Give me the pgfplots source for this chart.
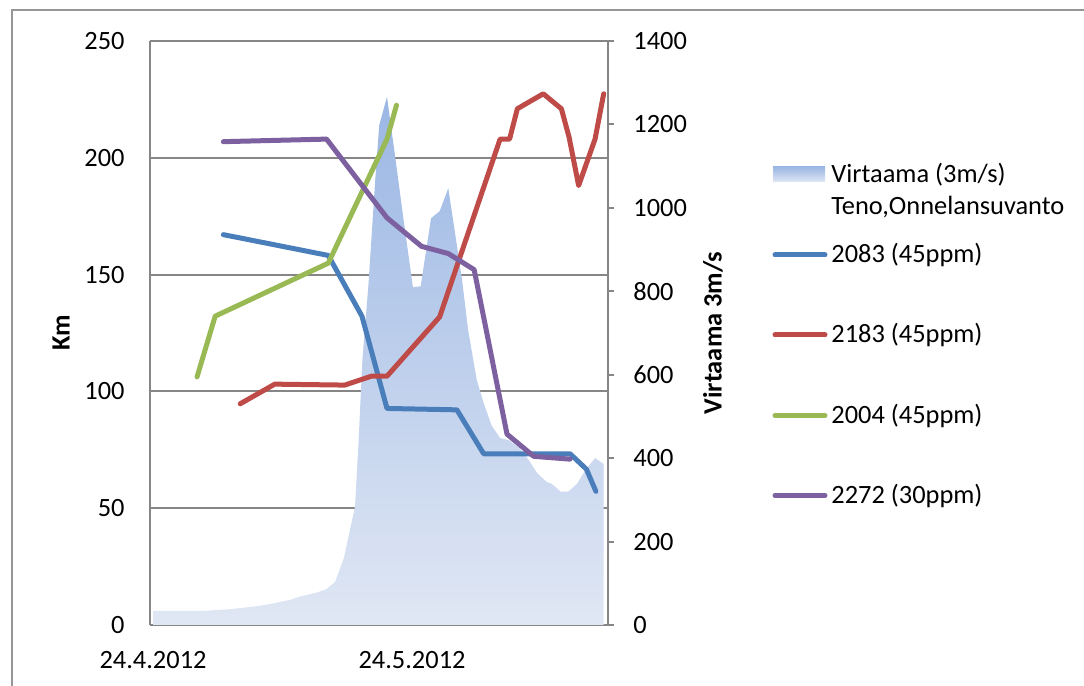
\documentclass[border=0pt]{standalone}
\usepackage{fontspec}
\setmainfont{Carlito}
\usepackage{pgfplots}
\pgfplotsset{compat=1.18}
\definecolor{gridgray}{RGB}{134,134,134}
\definecolor{c1}{RGB}{74,126,187}
\definecolor{c2}{RGB}{190,75,72}
\definecolor{c3}{RGB}{152,185,84}
\definecolor{c4}{RGB}{125,96,160}
\definecolor{areatop}{RGB}{155,183,228}
\definecolor{areabot}{RGB}{224,231,244}
\definecolor{framegray}{RGB}{150,150,150}
\newcommand\fsz{\fontsize{13.2}{16}\selectfont}

\begin{document}
\begin{tikzpicture}[font=\fsz]
\useasboundingbox (-75pt,-30.5pt) rectangle (467pt,312.5pt);
\pgfplotsset{base/.style={at={(0,0)}, anchor=south west, scale only axis,
  width=229pt, height=292pt, xmin=-0.35, xmax=52.7,
  /pgf/number format/assume math mode=true,
  /pgf/number format/1000 sep={},
  tick label style={font=\fsz}}}
% outer chart frame
\draw[framegray, line width=0.6pt] (-69pt,-40pt) -- (-69pt,307.5pt) -- (480pt,307.5pt);

% Axis A: left axis, grid
\begin{axis}[base, ymin=0, ymax=250, ytick={0,50,...,250},
  xtick={0,30}, xticklabels={24.4.2012,24.5.2012},
  ymajorgrids, grid style={gridgray, line width=1pt},
  axis x line*=bottom, axis y line*=left,
  axis line style={gridgray, line width=1pt, -},
  major tick length=0pt, tick style={draw=none},
  yticklabel style={inner sep=0pt, anchor=east, xshift=-12.5pt},
  xticklabel style={inner sep=0pt, anchor=north, yshift=-13pt},
  ylabel={Km},
  every axis y label/.style={at={(axis description cs:-0.194,0.5)}, rotate=90, anchor=center, font=\fsz\bfseries}]
\addplot[draw=none] coordinates {(0,0)};
\end{axis}

% Axis B: right axis, discharge area
\begin{axis}[base, ymin=0, ymax=1400, ytick={0,200,...,1400},
  axis y line*=right, axis x line=none, xtick=\empty,
  axis line style={gridgray, line width=1pt, -},
  tick align=outside, major tick length=3pt, tick style={gridgray, line width=1pt},
  yticklabel style={inner sep=0pt, anchor=west, xshift=9.5pt},
  ylabel={Virtaama 3m/s},
  every axis y label/.style={at={(axis description cs:1.229,0.5)}, rotate=90, anchor=center, font=\fsz\bfseries}]
\addplot[draw=none, top color=areatop, bottom color=areabot] coordinates {
(0,34) (6,34) (9,38) (12.4,46) (14,52) (15.1,57) (16,61) (17,68) (19,78)
(20.1,86) (21.1,104) (22.1,160) (23.4,284) (23.8,436) (24.25,635) (24.95,815)
(25.7,1055) (26.2,1198) (27.1,1266) (28,1130) (29,975) (30.1,810) (31,812)
(32.2,975) (33.2,992) (34.2,1047) (35.8,827) (36.5,707) (37.5,587) (38.3,532)
(39.2,479) (40.2,448) (41.2,443) (42.3,427) (43.5,396) (44.5,364) (45.6,343)
(46.2,338) (47.2,320) (48.1,320) (49.1,338) (50.1,372) (51.2,400) (52.2,386)
} \closedcycle;
\end{axis}

% Axis C: Km lines
\begin{axis}[base, ymin=0, ymax=250, hide axis, clip=false]
\pgfplotsset{every axis plot/.append style={line width=2.5pt, line join=round, line cap=round}}
\addplot[c1] coordinates {(8.15,167.1) (20.3,158.2) (24.2,132.2) (27.1,92.7)
 (35.2,92.1) (38.3,73.3) (48.3,73.3) (50.2,66.7) (51.3,57.2)};
\addplot[c2] coordinates {(10.1,94.7) (14.1,103.1) (22.2,102.7) (25.3,106.5)
 (27.1,106.5) (33.2,131.9) (40.2,208.0) (41.3,208.0) (42.2,221.0) (45.2,227.4)
 (47.3,221.0) (48.2,208.7) (49.3,188.1) (51.2,208.0) (52.2,227.4)};
\addplot[c3] coordinates {(5.1,106.2) (7.2,132.2) (20.3,154.9) (27.1,208.0) (28.2,222.5)};
\addplot[c4] coordinates {(8.15,206.9) (20.1,208.0) (27.1,174.3) (31.1,162.1)
 (34.2,159.0) (37.2,152.1) (41.0,81.7) (44.1,72.2) (48.3,71.0)};
\end{axis}

% legend (pixel coordinates of the reference)
\begin{scope}[x=0.5pt, y=-0.5pt, shift={(-75pt,312.5pt)}]
\shade[top color=areatop, bottom color=areabot] (773,167) rectangle (825,182);
\node[anchor=base west, inner sep=0pt] at (831,183) {Virtaama (3m/s)};
\node[anchor=base west, inner sep=0pt] at (831,215) {Teno,Onnelansuvanto};
\foreach \c/\yy/\t in {c1/255/{2083 (45ppm)}, c2/335/{2183 (45ppm)}, c3/415.5/{2004 (45ppm)}, c4/495.5/{2272 (30ppm)}}{
  \draw[\c, line width=2.5pt, line cap=round] (775,\yy) -- (825,\yy);
  \node[anchor=base west, inner sep=0pt] at (831,\yy+8) {\t};
}
\end{scope}
\end{tikzpicture}
\end{document}
